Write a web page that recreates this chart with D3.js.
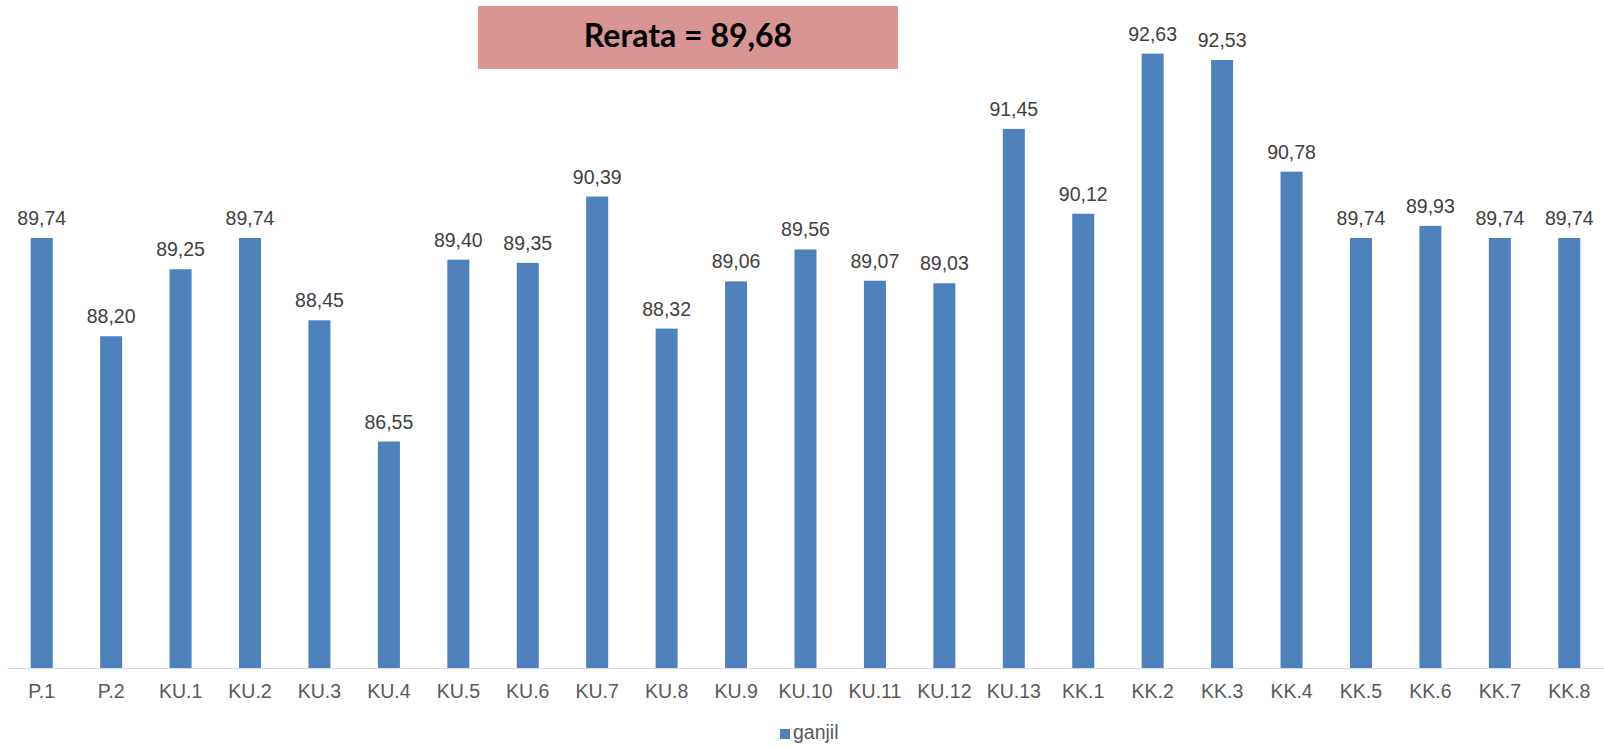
<!DOCTYPE html>
<html>
<head>
<meta charset="utf-8">
<script src="https://cdn.jsdelivr.net/npm/d3@7"></script>
<style>
  body { margin: 0; background: #fff; }
  svg { display: block; }
  .lbl { font-family: "Liberation Sans", Arial, sans-serif; font-size: 19.5px; fill: #404040; }
  .cat { font-family: "Liberation Sans", Arial, sans-serif; font-size: 19.5px; fill: #595959; }
</style>
</head>
<body>
<div id="chart"></div>
<script>
var width = 1604, height = 747;

// data
var categories = ["P.1", "P.2", "KU.1", "KU.2", "KU.3", "KU.4", "KU.5", "KU.6", "KU.7", "KU.8",
  "KU.9", "KU.10", "KU.11", "KU.12", "KU.13", "KK.1", "KK.2", "KK.3", "KK.4", "KK.5", "KK.6", "KK.7", "KK.8"];
var ganjil = [89.74, 88.20, 89.25, 89.74, 88.45, 86.55, 89.40, 89.35, 90.39, 88.32,
  89.06, 89.56, 89.07, 89.03, 91.45, 90.12, 92.63, 92.53, 90.78, 89.74, 89.93, 89.74, 89.74];
var seriesName = "ganjil";
var yDomain = [83, 93];
var meanText = "Rerata = 89,68";

var data = categories.map(function(c, i) { return {cat: c, val: ganjil[i]}; });

var svg = d3.select("#chart").append("svg")
  .attr("width", width)
  .attr("height", height);

var x = d3.scaleBand()
  .domain(categories)
  .range([7, 1604])
  .paddingInner(0.683)
  .paddingOuter(0.3415);

var y = d3.scaleLinear()
  .domain(yDomain)
  .range([668, 30]);

function fmt(v) { return v.toFixed(2).replace(".", ","); }

// bars
svg.selectAll("rect.bar")
  .data(data)
  .enter()
  .append("rect")
  .attr("class", "bar")
  .attr("x", function(d) { return x(d.cat); })
  .attr("width", x.bandwidth())
  .attr("y", function(d) { return y(d.val); })
  .attr("height", function(d) { return y(yDomain[0]) - y(d.val); })
  .attr("fill", "#4F81BD");

// value labels
svg.selectAll("text.lbl")
  .data(data)
  .enter()
  .append("text")
  .attr("class", "lbl")
  .attr("x", function(d) { return x(d.cat) + x.bandwidth() / 2; })
  .attr("y", function(d) { return y(d.val) - 13; })
  .attr("text-anchor", "middle")
  .text(function(d) { return fmt(d.val); });

// category axis
var xAxis = d3.axisBottom(x).tickSize(0).tickPadding(16);
var gx = svg.append("g")
  .attr("transform", "translate(0," + y(yDomain[0]) + ")")
  .call(xAxis);
gx.select(".domain").attr("stroke", "#d9d9d9").attr("stroke-width", 1.2);
gx.selectAll("text")
  .attr("class", "cat")
  .attr("font-family", null)
  .attr("font-size", null)
  .attr("fill", null)
  .attr("dy", "0.71em");

// legend
var legend = svg.append("g").attr("transform", "translate(780,729)");
legend.append("rect")
  .attr("width", 10)
  .attr("height", 10)
  .attr("fill", "#4F81BD");
legend.append("text")
  .attr("class", "cat")
  .attr("x", 13)
  .attr("y", 10)
  .text(seriesName);

// mean box
svg.append("rect")
  .attr("x", 478)
  .attr("y", 6)
  .attr("width", 420)
  .attr("height", 63)
  .attr("fill", "#D99594");
svg.append("text")
  .attr("x", 688)
  .attr("y", 47)
  .attr("text-anchor", "middle")
  .attr("font-family", "Lato, 'Liberation Sans', sans-serif")
  .attr("font-weight", "bold")
  .attr("font-size", "32px")
  .attr("fill", "#000")
  .text(meanText);
</script>
</body>
</html>
